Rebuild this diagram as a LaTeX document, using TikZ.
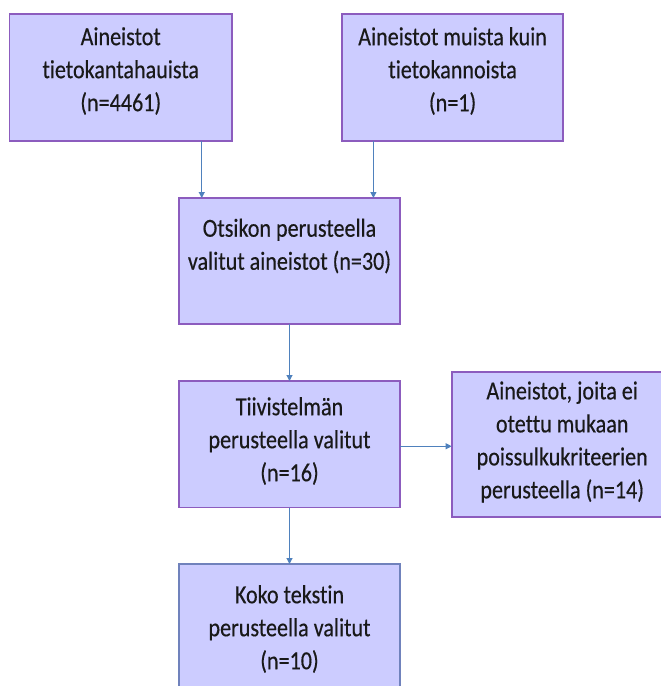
\documentclass[tikz,border=0pt]{standalone}
\usepackage{fontspec}
\setmainfont[Ligatures=NoCommon, FakeStretch=0.85, FakeBold=0.4]{Carlito}
\usetikzlibrary{arrows.meta}
\definecolor{boxfill}{RGB}{204,204,255}
\definecolor{boxline}{RGB}{140,92,190}
\definecolor{boxlineb}{RGB}{112,130,188}
\definecolor{arrowc}{RGB}{79,129,189}
\tikzset{
  flowbox/.style={draw=boxline, fill=boxfill, line width=1.6pt, inner sep=0pt, outer sep=0pt},
  flowtext/.style={align=center, inner sep=0pt, font=\fontsize{26}{33}\selectfont, text=black!90},
  arr/.style={draw=arrowc, line width=1.1pt, -{Triangle[length=6pt,width=6pt]}}
}
\begin{document}
\begin{tikzpicture}[x=1pt,y=-1pt]
\clip (0,0) rectangle (661,686);
\useasboundingbox (0,0) rectangle (661,686);
\fill[white] (0,0) rectangle (661,686);
% boxes
\node[flowbox, minimum width=222.5pt, minimum height=127pt] (A) at (120.75,77.5) {};
\node[flowbox, minimum width=221.3pt, minimum height=127pt] (B) at (452.4,77.5) {};
\node[flowbox, minimum width=221pt, minimum height=126pt] (C) at (289.5,261) {};
\node[flowbox, minimum width=221pt, minimum height=126.5pt] (D) at (289.5,444.25) {};
\node[flowbox, minimum width=221pt, minimum height=144.7pt] (E) at (562.2,444.35) {};
\node[flowbox, draw=boxlineb, minimum width=221pt, minimum height=140pt] (F) at (289.5,634) {};
% texts
\node[flowtext] (At) at (120.75,71) {Aineistot\\tietokantahauista\\(n=4461)};
\node[flowtext] (Bt) at (452.6,71) {Aineistot muista kuin\\tietokannoista\\(n=1)};
\node[flowtext] (Ct) at (289.5,246) {Otsikon perusteella\\valitut aineistot (n=30)};
\node[flowtext] (Dt) at (289.5,441) {Tiivistelmän\\perusteella valitut\\(n=16)};
\node[flowtext] (Et) at (562.2,442) {Aineistot, joita ei\\otettu mukaan\\poissulkukriteerien\\perusteella (n=14)};
\node[flowtext] (Ft) at (289.5,629) {Koko tekstin\\perusteella valitut\\(n=10)};
% connectors
\draw[arr] ([xshift=81pt]A.south) -- ([xshift=81pt]A.south |- C.north);
\draw[arr] ([xshift=-79pt]B.south) -- ([xshift=-79pt]B.south |- C.north);
\draw[arr] (C.south) -- (D.north);
\draw[arr] ([yshift=-2pt]D.east) -- ([yshift=-2pt]D.east -| E.west);
\draw[arr] (D.south) -- (F.north);
\end{tikzpicture}
\end{document}
